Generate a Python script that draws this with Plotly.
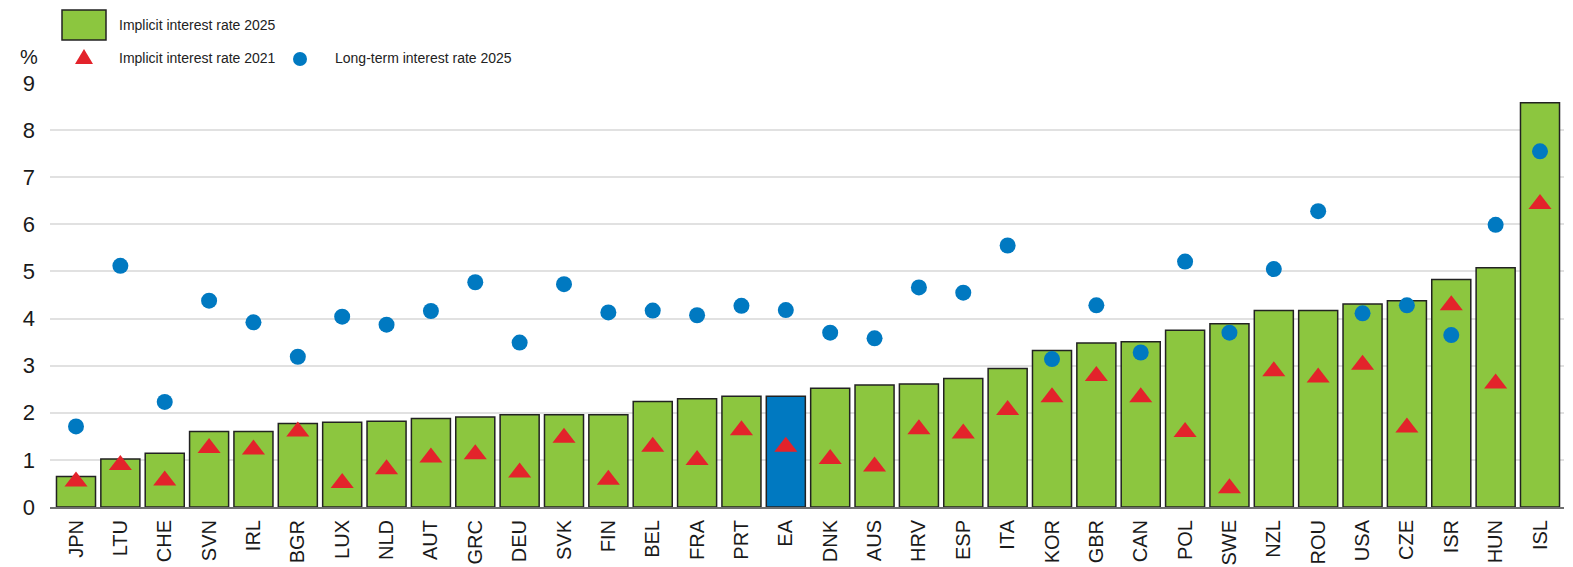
import plotly.graph_objects as go

countries = ["JPN", "LTU", "CHE", "SVN", "IRL", "BGR", "LUX", "NLD", "AUT", "GRC", "DEU", "SVK",
             "FIN", "BEL", "FRA", "PRT", "EA", "DNK", "AUS", "HRV", "ESP", "ITA", "KOR", "GBR",
             "CAN", "POL", "SWE", "NZL", "ROU", "USA", "CZE", "ISR", "HUN", "ISL"]

implicit_2025 = [0.65, 1.02, 1.14, 1.60, 1.60, 1.77, 1.80, 1.82, 1.88, 1.91, 1.96, 1.96,
                 1.96, 2.24, 2.30, 2.35, 2.35, 2.52, 2.59, 2.61, 2.73, 2.94, 3.32, 3.48,
                 3.51, 3.75, 3.89, 4.17, 4.17, 4.31, 4.38, 4.83, 5.08, 8.58]

implicit_2021 = [0.54, 0.89, 0.56, 1.25, 1.22, 1.60, 0.51, 0.80, 1.05, 1.12, 0.73, 1.47,
                 0.58, 1.28, 1.00, 1.63, 1.28, 1.02, 0.86, 1.65, 1.56, 2.06, 2.33, 2.78,
                 2.33, 1.59, 0.40, 2.88, 2.75, 3.02, 1.69, 4.28, 2.62, 6.43]

long_term_2025 = [1.71, 5.12, 2.23, 4.38, 3.92, 3.19, 4.04, 3.87, 4.16, 4.77, 3.49, 4.73,
                  4.13, 4.17, 4.07, 4.27, 4.18, 3.70, 3.58, 4.66, 4.55, 5.55, 3.14, 4.28,
                  3.28, 5.21, 3.70, 5.05, 6.28, 4.11, 4.28, 3.65, 5.99, 7.55]

y_ticks = [0, 1, 2, 3, 4, 5, 6, 7, 8, 9]

GREEN = "#8CC63F"
BLUE = "#0079C1"
RED = "#E3232B"
FONT = "Liberation Sans, Arial, sans-serif"

OFF = 8  # the page body margin shifts the figure by this many pixels
W, H = 1573 - 2 * OFF, 567 - OFF
# plot area in page pixels
PL, PR, PT, PB = 50, 1564, 83, 507
pl, pr, pt, pb = PL - OFF, PR - OFF, PT - OFF, PB - OFF


def px_x(p):
    return (p - PL) / (PR - PL)


def px_y(p):
    return (PB - p) / (PB - PT)


bar_colors = [BLUE if c == "EA" else GREEN for c in countries]

fig = go.Figure()
fig.add_trace(go.Bar(
    x=countries, y=implicit_2025, name="Implicit interest rate 2025",
    marker=dict(color=bar_colors, line=dict(color="#222222", width=1.5)),
    width=0.88, showlegend=False,
))
fig.add_trace(go.Scatter(
    x=countries, y=implicit_2021, mode="markers", name="Implicit interest rate 2021",
    marker=dict(symbol="triangle-up", size=20, color=RED, line=dict(width=0)),
    showlegend=False,
))
fig.add_trace(go.Scatter(
    x=countries, y=long_term_2025, mode="markers", name="Long-term interest rate 2025",
    marker=dict(symbol="circle", size=16, color=BLUE, line=dict(width=0)),
    showlegend=False,
))

n = len(countries)
sp = (1540 - 76) / (n - 1)
x_lo = -(76 - PL) / sp
x_hi = (n - 1) + (PR - 1540) / sp

fig.update_layout(
    width=W, height=H,
    margin=dict(l=pl, r=W - pr, t=pt, b=H - pb, pad=0, autoexpand=False),
    plot_bgcolor="white", paper_bgcolor="white",
    font=dict(family=FONT, color="#1a1a1a"),
    showlegend=False,
    xaxis=dict(
        range=[x_lo, x_hi], tickangle=-90, showgrid=False, automargin=False,
        showline=True, linecolor="#6e6e6e", linewidth=2,
        tickfont=dict(size=20, family=FONT, color="#1a1a1a"),
        ticks="", ticklabelstandoff=3, layer="above traces",
    ),
    yaxis=dict(
        range=[0, 9], tickvals=y_ticks, showgrid=True, automargin=False,
        gridcolor="rgba(200,200,200,0.55)", gridwidth=1.5,
        zeroline=False, showline=False, ticks="",
        tickfont=dict(size=22, family=FONT, color="#1a1a1a"),
        ticklabelstandoff=14, layer="above traces",
    ),
)

shapes = []
# legend: bar swatch
shapes.append(dict(type="rect", xref="paper", yref="paper",
                   x0=px_x(62), x1=px_x(106), y0=px_y(40), y1=px_y(10),
                   fillcolor=GREEN, line=dict(color="#222222", width=1.5)))
# legend: triangle
tx, ty = 84, 57
shapes.append(dict(type="path", xref="paper", yref="paper",
                   path=f"M {px_x(tx-9)},{px_y(ty+7)} L {px_x(tx+9)},{px_y(ty+7)} L {px_x(tx)},{px_y(ty-8)} Z",
                   fillcolor=RED, line=dict(width=0)))
# legend: dot
cx, cy = 300, 59
shapes.append(dict(type="circle", xref="paper", yref="paper",
                   x0=px_x(cx-7), x1=px_x(cx+7), y0=px_y(cy+7), y1=px_y(cy-7),
                   fillcolor=BLUE, line=dict(width=0)))
fig.update_layout(shapes=shapes)

annotations = [
    dict(text="Implicit interest rate 2025", x=px_x(117), y=px_y(25)),
    dict(text="Implicit interest rate 2021", x=px_x(117), y=px_y(58)),
    dict(text="Long-term interest rate 2025", x=px_x(333), y=px_y(58)),
]
for a in annotations:
    a.update(xref="paper", yref="paper", xanchor="left", yanchor="middle",
             showarrow=False, font=dict(family=FONT, size=14, color="#222222"))
annotations.append(dict(text="%", xref="paper", yref="paper", x=px_x(29), y=px_y(57),
                        xanchor="center", yanchor="middle", showarrow=False,
                        font=dict(family=FONT, size=20, color="#1a1a1a")))
fig.update_layout(annotations=annotations)

fig.write_html("out.html")
